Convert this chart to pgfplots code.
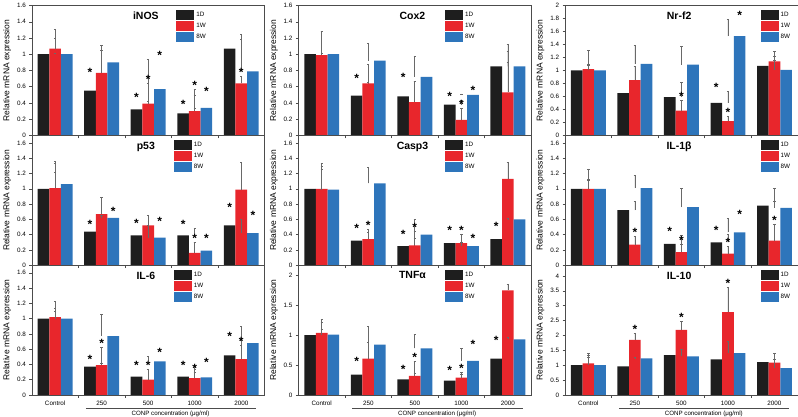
\documentclass[border=0pt]{standalone}
\usepackage{fontspec}
\setmainfont{Liberation Sans}
\usepackage{pgfplots}
\usepackage{pgfplotstable}
\pgfplotsset{compat=1.18}
\usepgfplotslibrary{groupplots}

\definecolor{c1D}{RGB}{30,30,30}
\definecolor{c1W}{RGB}{232,38,44}
\definecolor{c8W}{RGB}{46,117,187}
\definecolor{errc}{RGB}{105,105,105}

% g = group, a/b/c = 1D/1W/8W mean, e* = upper error, s* = significance star
\pgfplotstableread{
g a ea sa b eb sb c ec sc
0 1.00 0.19 0 1.07 0.24 0 1.00 0.01 0
1 0.55 0.18 1 0.77 0.28 0 0.90 0.21 0
2 0.32 0.10 1 0.39 0.25 1 0.57 0.37 1
3 0.27 0.06 1 0.30 0.27 1 0.34 0.15 1
4 1.07 0.17 0 0.64 0.09 1 0.79 0.39 0
}\tINOS
\pgfplotstableread{
g a ea sa b eb sb c ec sc
0 1.00 0.28 0 0.99 0.29 0 1.00 0.01 0
1 0.49 0.16 1 0.64 0.23 0 0.92 0.22 0
2 0.48 0.18 1 0.41 0.25 0 0.72 0.26 0
3 0.38 0.05 1 0.19 0.14 1 0.50 0.01 1
4 0.85 0.19 0 0.53 0.37 0 0.85 0.27 0
}\tCOX
\pgfplotstableread{
g a ea sa b eb sb c ec sc
0 1.00 0.09 0 1.02 0.29 0 1.00 0.08 0
1 0.65 0.18 0 0.85 0.22 0 1.10 0.29 0
2 0.59 0.23 0 0.38 0.16 1 1.09 0.28 0
3 0.50 0.18 1 0.22 0.08 1 1.53 0.26 1
4 1.07 0.22 0 1.14 0.02 0 1.01 0.21 0
}\tNRF
\pgfplotstableread{
g a ea sa b eb sb c ec sc
0 1.00 0.21 0 1.01 0.33 0 1.06 0.30 0
1 0.44 0.04 1 0.67 0.22 0 0.62 0.03 1
2 0.39 0.11 1 0.52 0.13 0 0.36 0.16 1
3 0.39 0.09 1 0.16 0.14 1 0.19 0.11 1
4 0.52 0.18 1 0.99 0.36 0 0.42 0.18 1
}\tPFT
\pgfplotstableread{
g a ea sa b eb sb c ec sc
0 1.00 0.26 0 1.00 0.30 0 0.99 0.35 0
1 0.32 0.11 1 0.34 0.13 1 1.07 0.21 0
2 0.25 0.10 1 0.26 0.18 1 0.40 0.20 0
3 0.29 0.11 1 0.29 0.12 1 0.25 0.05 1
4 0.34 0.12 1 1.13 0.22 0 0.60 0.01 0
}\tCASP
\pgfplotstableread{
g a ea sa b eb sb c ec sc
0 1.00 0.26 0 1.00 0.11 0 1.00 0.13 0
1 0.72 0.12 0 0.27 0.11 1 1.01 0.17 0
2 0.28 0.11 1 0.17 0.10 1 0.76 0.24 0
3 0.30 0.10 1 0.15 0.10 1 0.43 0.18 1
4 0.78 0.05 0 0.32 0.22 1 0.75 0.25 0
}\tILB
\pgfplotstableread{
g a ea sa b eb sb c ec sc
0 1.00 0.23 0 1.02 0.08 0 1.00 0.13 0
1 0.37 0.05 1 0.39 0.23 1 0.77 0.29 0
2 0.24 0.09 1 0.20 0.13 1 0.44 0.07 1
3 0.24 0.09 1 0.22 0.08 1 0.23 0.14 1
4 0.52 0.20 1 0.47 0.18 1 0.68 0.22 0
}\tILS
\pgfplotstableread{
g a ea sa b eb sb c ec sc
0 1.00 0.26 0 1.04 0.17 0 1.01 0.08 0
1 0.34 0.15 1 0.61 0.27 0 0.84 0.30 0
2 0.26 0.10 1 0.32 0.24 1 0.78 0.23 0
3 0.24 0.11 1 0.29 0.09 1 0.57 0.21 1
4 0.61 0.23 1 1.75 0.10 0 0.93 0.04 0
}\tTNF
\pgfplotstableread{
g a ea sa b eb sb c ec sc
0 1.00 0.32 0 1.06 0.34 0 1.00 0.27 0
1 0.96 0.28 0 1.85 0.23 1 1.23 0.02 0
2 1.34 0.29 0 2.19 0.28 1 1.30 0.23 0
3 1.20 0.09 0 2.78 0.82 1 1.41 0.38 0
4 1.10 0.31 0 1.09 0.12 0 0.90 0.29 0
}\tILT

\pgfplotsset{
  barst/.style={ybar, bar width=0.25, draw=none,
    error bars/y dir=plus, error bars/y explicit,
    error bars/error bar style={errc, line width=0.7pt},
    error bars/error mark options={errc, rotate=90, mark size=1.2pt, line width=0.7pt}},
  sw/.style={legend image code/.code={\fill[#1] (0pt,-5pt) rectangle (18pt,5pt);}},
  sigstar/.style={only marks, forget plot, mark=text, text mark={*},
    text mark as node=true, mark options={yshift=4pt},
    text mark style={inner sep=0pt,
      font=\fontsize{12}{12}\selectfont\bfseries}},
}

\newcommand{\bargroup}[1]{%
  \addplot[barst, bar shift=-0.25, fill=c1D, sw=c1D] table[x=g, y=a, y error=ea]{#1};
  \addplot[barst, bar shift=0, fill=c1W, sw=c1W] table[x=g, y=b, y error=eb]{#1};
  \addplot[barst, bar shift=0.25, fill=c8W, sw=c8W] table[x=g, y=c, y error=ec]{#1};
  \addplot[sigstar] table[x expr=\thisrow{g}-0.25, y expr=\thisrow{a}+\thisrow{ea},
    restrict expr to domain={\thisrow{sa}}{0.5:1.5}]{#1};
  \addplot[sigstar] table[x expr=\thisrow{g}, y expr=\thisrow{b}+\thisrow{eb},
    restrict expr to domain={\thisrow{sb}}{0.5:1.5}]{#1};
  \addplot[sigstar] table[x expr=\thisrow{g}+0.25, y expr=\thisrow{c}+\thisrow{ec},
    restrict expr to domain={\thisrow{sc}}{0.5:1.5}]{#1};
  \legend{1D,1W,8W}
}

\newcommand{\conp}{%
  \draw[black!70, line width=0.5pt] ([yshift=-13pt]axis cs:0.66,0) -- ([yshift=-13pt]axis cs:4.32,0);
  \node[anchor=north, inner sep=0pt, font=\fontsize{6.2}{7}\selectfont]
    at ([yshift=-16pt]axis cs:2.48,0) {CONP concentration (μg/ml)};
}

\begin{document}
\begin{tikzpicture}
\begin{groupplot}[
  group style={group size=3 by 3, horizontal sep=34pt, vertical sep=0pt,
    xticklabels at=edge bottom},
  width=233pt, height=130pt, scale only axis, clip=false,
  xmin=-0.5, xmax=4.5, ymin=0,
  xtick={0,1,2,3,4}, xticklabels={Control,250,500,1000,2000},
  minor xtick={0.5,1.5,2.5,3.5},
  major x tick style={draw=none},
  tick align=outside, ytick pos=left, xtick pos=bottom,
  major tick length=2.5pt, minor tick length=3pt,
  tick style={black!70, line width=0.5pt},
  axis line style={black!70, line width=0.5pt},
  tick label style={font=\fontsize{6.3}{7}\selectfont},
  /pgf/number format/assume math mode=true,
  ylabel={Relative mRNA expression},
  ylabel style={font=\fontsize{8.5}{9}\selectfont, yshift=-1pt},
  every axis title/.style={at={(0.49,1)}, anchor=north, yshift=-3pt,
    font=\fontsize{10.5}{12}\selectfont\bfseries},
  legend style={draw=none, fill=none, font=\fontsize{6.3}{7}\selectfont,
    inner sep=0pt, row sep=1pt, anchor=north west},
  legend cell align=left,
]
% row 1
\nextgroupplot[ymax=1.6, ytick={0,0.2,0.4,0.6,0.8,1,1.2,1.4,1.6}, title={iNOS},
  legend style={at={(0.62,0.97)}}]
\bargroup{\tINOS}
\nextgroupplot[ymax=1.6, ytick={0,0.2,0.4,0.6,0.8,1,1.2,1.4,1.6}, title={Cox2},
  legend style={at={(0.63,0.97)}}]
\bargroup{\tCOX}
\nextgroupplot[ymax=2, ytick={0,0.2,0.4,0.6,0.8,1,1.2,1.4,1.6,1.8,2}, title={Nr-f2},
  legend style={at={(0.84,0.97)}}]
\bargroup{\tNRF}
% row 2
\nextgroupplot[ymax=1.7, ytick={0,0.2,0.4,0.6,0.8,1,1.2,1.4,1.6}, title={p53},
  legend style={at={(0.61,0.965)}}]
\bargroup{\tPFT}
\nextgroupplot[ymax=1.7, ytick={0,0.2,0.4,0.6,0.8,1,1.2,1.4,1.6}, title={Casp3},
  legend style={at={(0.63,0.965)}}]
\bargroup{\tCASP}
\nextgroupplot[ymax=1.7, ytick={0,0.2,0.4,0.6,0.8,1,1.2,1.4,1.6}, title={IL-1β},
  legend style={at={(0.84,0.965)}}]
\bargroup{\tILB}
% row 3
\nextgroupplot[ymax=1.7, ytick={0,0.2,0.4,0.6,0.8,1,1.2,1.4,1.6}, title={IL-6},
  legend style={at={(0.61,0.965)}}]
\bargroup{\tILS}
\conp
\nextgroupplot[ymax=2.17, ytick={0,0.5,1,1.5,2}, title={TNFα},
  legend style={at={(0.63,0.965)}}]
\bargroup{\tTNF}
\conp
\nextgroupplot[ymax=4.36, ytick={0,0.5,1,1.5,2,2.5,3,3.5,4}, title={IL-10},
  legend style={at={(0.84,0.965)}}]
\bargroup{\tILT}
\conp
\end{groupplot}
\end{tikzpicture}
\end{document}
